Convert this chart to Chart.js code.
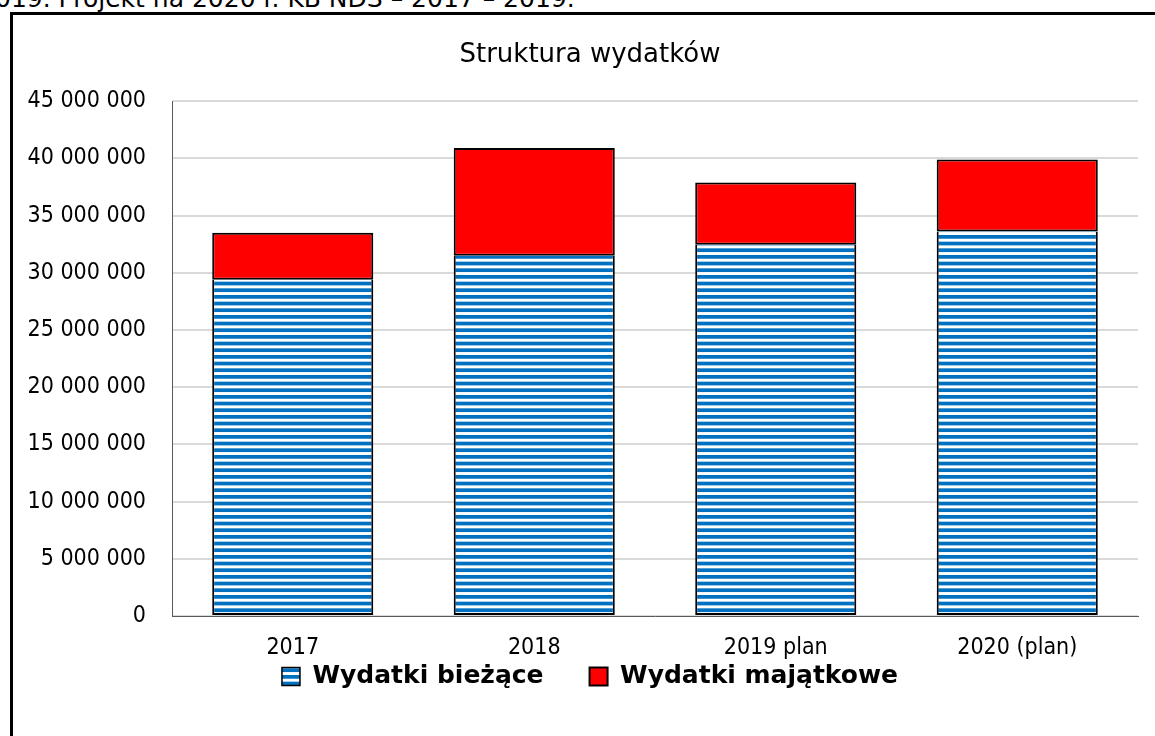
<!DOCTYPE html>
<html>
<head>
<meta charset="utf-8">
<script src="https://cdn.jsdelivr.net/npm/chart.js@4"></script>
<style>
  html, body { margin: 0; padding: 0; background: #fff; overflow: hidden; width: 1155px; height: 736px; }
  #topline { position: absolute; left: -5px; top: -16px; font: 25px "DejaVu Sans", sans-serif; color: #000; white-space: nowrap; }
  #frame { position: absolute; left: 10px; top: 12px; width: 1200px; height: 800px; border-left: 3px solid #000; border-top: 3px solid #000; }
  #c { position: absolute; left: 13px; top: 15px; }
</style>
</head>
<body>
<div id="topline">019. Projekt na 2020 r. KB NDS – 2017 – 2019.</div>
<div id="frame"></div>
<canvas id="c" width="1154" height="721"></canvas>
<script>
// Struktura wydatków — stacked bars
const categories = ['2017', '2018', '2019 plan', '2020 (plan)'];
const biezace = [29400000, 31500000, 32450000, 33600000];
const majatkowe = [4100000, 9400000, 5450000, 6300000];

const COND = '"DejaVu Sans Condensed", "DejaVu Sans", sans-serif';
const SANS = '"DejaVu Sans", sans-serif';

// horizontal stripes for "Wydatki bieżące"
function stripes() {
    const p = document.createElement('canvas');
    p.width = 8; p.height = 20;
    const g = p.getContext('2d');
    g.fillStyle = '#ffffff';
    g.fillRect(0, 0, 8, 20);
    g.fillStyle = '#0070C0';
    const period = 20 / 3;
    for (let i = 0; i < 3; i++) g.fillRect(0, i * period, 8, period * 0.56);
    return g.createPattern(p, 'repeat');
}

function spaced(v) {
    return String(v).replace(/\B(?=(\d{3})+(?!\d))/g, ' ');
}

const ctx = document.getElementById('c').getContext('2d');
new Chart(ctx, {
    type: 'bar',
    data: {
        labels: categories,
        datasets: [
            { label: 'Wydatki bieżące', data: biezace, backgroundColor: stripes(), borderColor: '#000',
              borderWidth: { top: 0, left: 2, right: 2, bottom: 2 }, borderSkipped: false },
            { label: 'Wydatki majątkowe', data: majatkowe, backgroundColor: '#FF0000', borderColor: '#000',
              borderWidth: 2, borderSkipped: false }
        ]
    },
    options: {
        responsive: false,
        animation: false,
        devicePixelRatio: 1,
        layout: { padding: { left: 0, right: 0, top: 0, bottom: 37 } },
        datasets: { bar: { categoryPercentage: 0.667, barPercentage: 1 } },
        plugins: {
            title: {
                display: true, text: 'Struktura wydatków', color: '#000',
                font: { family: SANS, size: 26, weight: 'normal' },
                padding: { top: 25, bottom: 30 }
            },
            legend: {
                position: 'bottom',
                labels: {
                    color: '#000', boxWidth: 18, boxHeight: 18, padding: 46,
                    font: { family: SANS, size: 25, weight: 'bold' }
                }
            },
            tooltip: { enabled: false }
        },
        scales: {
            x: {
                stacked: true,
                // labels hang into the legend's top padding, as in the original
                afterFit: s => {
                    s.height = 2;
                    s._computeLabelArea = () => undefined; // don't clip labels to the thin axis box
                },
                grid: { display: false, drawTicks: false },
                border: { color: '#595959', width: 1 },
                ticks: { color: '#000', padding: 18, autoSkip: false, maxRotation: 0, font: { family: COND, size: 23 } }
            },
            y: {
                stacked: true,
                min: 0, max: 45000000,
                afterFit: s => { s.width = 159; },
                grid: { color: '#d9d9d9', lineWidth: 2, drawTicks: false },
                border: { color: '#595959', width: 1 },
                ticks: { stepSize: 5000000, color: '#000', padding: 26, font: { family: COND, size: 23 }, callback: v => spaced(v) }
            },
            // empty right-hand space so title and legend stay centred on the frame
            pad: {
                position: 'right', display: true,
                afterFit: s => { s.width = 29; },
                grid: { display: false, drawTicks: false },
                border: { display: false },
                ticks: { display: false }
            }
        }
    }
});
</script>
</body>
</html>
